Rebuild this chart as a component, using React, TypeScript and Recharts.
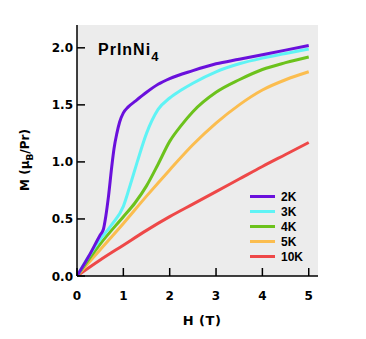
import React from "react";
import { LineChart, Line, XAxis, YAxis, CartesianGrid } from "recharts";

type Pt = { h: number; m: number };
const mk = (arr: number[][]): Pt[] => arr.map(([h, m]) => ({ h, m }));

const xTicks = [0, 1, 2, 3, 4, 5];
const yTicks = [0, 0.5, 1.0, 1.5, 2.0];

const series2K = mk([[0,0],[0.25,0.17],[0.5,0.36],[0.57,0.41],[0.62,0.52],[0.68,0.7],[0.75,0.96],[0.8,1.12],[0.86,1.25],[0.92,1.35],[1.0,1.43],[1.1,1.48],[1.25,1.53],[1.5,1.61],[1.75,1.68],[2.0,1.73],[2.5,1.8],[3.0,1.86],[3.5,1.9],[4.0,1.94],[4.5,1.98],[5.0,2.02]]);
const series3K = mk([[0,0],[0.25,0.17],[0.5,0.32],[0.75,0.45],[1.0,0.61],[1.15,0.8],[1.3,1.0],[1.5,1.25],[1.75,1.46],[2.0,1.56],[2.25,1.63],[2.5,1.69],[3.0,1.79],[3.5,1.86],[4.0,1.91],[4.5,1.95],[5.0,1.99]]);
const series4K = mk([[0,0],[0.5,0.28],[1.0,0.52],[1.25,0.64],[1.5,0.79],[1.75,0.98],[2.0,1.18],[2.25,1.32],[2.5,1.44],[3.0,1.61],[3.5,1.72],[4.0,1.81],[4.5,1.87],[5.0,1.92]]);
const series5K = mk([[0,0],[0.5,0.23],[1.0,0.46],[1.5,0.7],[2.0,0.93],[2.5,1.15],[3.0,1.34],[3.5,1.5],[4.0,1.63],[4.5,1.72],[5.0,1.79]]);
const series10K = mk([[0,0],[0.5,0.14],[1.0,0.27],[1.5,0.4],[2.0,0.52],[2.5,0.63],[3.0,0.74],[3.5,0.85],[4.0,0.96],[4.5,1.065],[5.0,1.17]]);

const seriesList = [
  { name: "2K", data: series2K, color: "#6a10dc" },
  { name: "3K", data: series3K, color: "#5ff3f5" },
  { name: "4K", data: series4K, color: "#6cc21c" },
  { name: "5K", data: series5K, color: "#fbbd4f" },
  { name: "10K", data: series10K, color: "#ee4848" },
];

const FONT = "'Liberation Sans', Arial, sans-serif";
const TFONT = "'DejaVu Sans', sans-serif";
const TL = 8;

const BottomTick = (p: any) => (
  <g>
    <line x1={p.x} x2={p.x} y1={p.y} y2={p.y - TL} stroke="#000" strokeWidth={1.5} />
    <text x={p.x} y={p.y + 24} textAnchor="middle" fontFamily={TFONT} fontWeight="bold" fontSize={12} fill="#000">
      {String(p.payload.value)}
    </text>
  </g>
);
const TopTick = (p: any) => (
  <line x1={p.x} x2={p.x} y1={p.y} y2={p.y + TL} stroke="#000" strokeWidth={1.5} />
);
const LeftTick = (p: any) => (
  <g>
    <line x1={p.x} x2={p.x + TL} y1={p.y} y2={p.y} stroke="#000" strokeWidth={1.5} />
    <text x={p.x - 4} y={p.y + 4.5} textAnchor="end" fontFamily={TFONT} fontWeight="bold" fontSize={12} fill="#000">
      {Number(p.payload.value).toFixed(1)}
    </text>
  </g>
);
const RightTick = (p: any) => (
  <line x1={p.x} x2={p.x - TL} y1={p.y} y2={p.y} stroke="#000" strokeWidth={1.5} />
);

export default function App() {
  return (
    <div style={{ position: "absolute", left: 0, top: 0, width: 366, height: 339, background: "#fff", fontFamily: FONT }}>
      <LineChart width={366} height={339} data={series2K} margin={{ top: 25, right: 48, left: 0, bottom: 0 }}>
        <CartesianGrid horizontal={false} vertical={false} fill="#ececec" />
        <XAxis xAxisId="b" dataKey="h" type="number" domain={[0, 5.2]} ticks={xTicks} height={63} tickSize={0} tickMargin={0} tick={<BottomTick />} axisLine={{ stroke: "#000", strokeWidth: 1.5 }} tickLine={false} allowDataOverflow />
        <XAxis xAxisId="t" orientation="top" dataKey="h" type="number" domain={[0, 5.2]} ticks={xTicks} height={0} tickSize={0} tickMargin={0} tick={<TopTick />} axisLine={{ stroke: "#000", strokeWidth: 1.5 }} tickLine={false} allowDataOverflow />
        <YAxis yAxisId="l" type="number" domain={[0, 2.2]} ticks={yTicks} width={77} tickSize={0} tickMargin={0} tick={<LeftTick />} axisLine={{ stroke: "#000", strokeWidth: 1.5 }} tickLine={false} allowDataOverflow />
        <YAxis yAxisId="r" orientation="right" type="number" domain={[0, 2.2]} ticks={yTicks} width={0} tickSize={0} tickMargin={0} tick={<RightTick />} axisLine={{ stroke: "#000", strokeWidth: 1.5 }} tickLine={false} allowDataOverflow />
        {seriesList.slice().reverse().map((s) => (
          <Line key={s.name} xAxisId="b" yAxisId="l" data={s.data} dataKey="m" type="monotone" stroke={s.color} strokeWidth={3} dot={false} isAnimationActive={false} />
        ))}
      </LineChart>
      <div style={{ position: "absolute", left: 98, top: 41, fontSize: 16, fontWeight: "bold", letterSpacing: 1, color: "#000", whiteSpace: "nowrap" }}>
        PrInNi<span style={{ fontSize: 13, position: "relative", top: 6 }}>4</span>
      </div>
      <div style={{ position: "absolute", left: 202, top: 320, transform: "translate(-50%, -50%)", fontFamily: TFONT, fontSize: 13, fontWeight: "bold", letterSpacing: 0.5, whiteSpace: "nowrap" }}>H (T)</div>
      <div style={{ position: "absolute", left: 25, top: 160, transform: "translate(-50%, -50%) rotate(-90deg)", fontFamily: TFONT, fontSize: 12, fontWeight: "bold", whiteSpace: "nowrap" }}>
        M (μ<span style={{ fontSize: 9, position: "relative", top: 4 }}>B</span>/Pr)
      </div>
      <div style={{ position: "absolute", left: 250, top: 189 }}>
        {seriesList.map((s) => (
          <div key={s.name} style={{ display: "flex", alignItems: "center", height: 15 }}>
            <div style={{ width: 25, height: 3, background: s.color }} />
            <div style={{ marginLeft: 6, fontSize: 12, fontWeight: "bold" }}>{s.name}</div>
          </div>
        ))}
      </div>
    </div>
  );
}
